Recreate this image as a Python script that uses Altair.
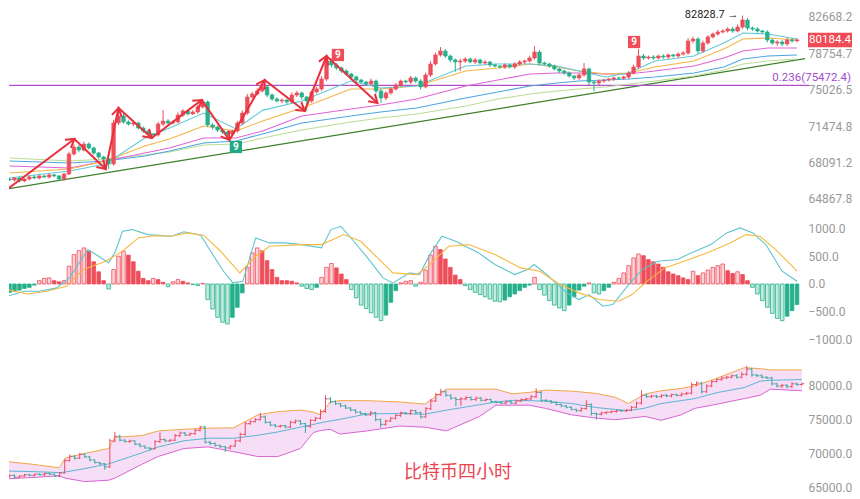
import math
import altair as alt
import pandas as pd

# ---------------- values ----------------
closes = [66530, 66710, 66440, 66620, 66800, 66710, 66890, 66800, 66980, 66890,
          66620, 67060, 68880, 69520, 69240, 69800, 69430, 68970, 68600, 68420,
          67970, 71780, 72450, 71880, 71680, 71780, 71300, 71020, 70740, 70640,
          71680, 71970, 71780, 71880, 72550, 72940, 72650, 72840, 73330, 73820,
          71590, 71400, 71110, 70930, 70740, 71020, 71780, 72740, 74310, 74610,
          74910, 75310, 74510, 74110, 73920, 74010, 73820, 74510, 74710, 74310,
          73920, 74810, 75110, 76110, 77960, 77550, 77240, 76930, 76620, 76320,
          76010, 75810, 75610, 75910, 74910, 74210, 74710, 75110, 75510, 75910,
          75810, 76220, 75910, 75310, 76520, 77650, 78590, 79010, 78480, 78070,
          77860, 77960, 78170, 77860, 78070, 77750, 77860, 77550, 77440, 77340,
          77550, 77340, 77650, 77860, 77960, 78270, 78900, 77750, 77650, 77440,
          77140, 76930, 76730, 76420, 76220, 76520, 77140, 75810, 75710, 75910,
          76010, 76110, 76220, 76200, 76320, 76730, 77340, 78480, 78270, 78380,
          78270, 78480, 78380, 78590, 78480, 78690, 78800, 80070, 80280, 79010,
          79850, 80500, 80820, 81030, 81140, 81360, 81140, 81570, 82340, 81470,
          81360, 81140, 81030, 80170, 79850, 79960, 79750, 80170, 80070, 80184.4]
wick_up = [120, 90, 150, 80, 110, 140, 70, 100, 130, 90,
           80, 110, 200, 250, 180, 220, 150, 120, 90, 110,
           100, 300, 680, 250, 150, 200, 120, 150, 100, 90,
           200, 1060, 180, 150, 250, 200, 150, 180, 220, 190,
           150, 200, 150, 120, 100, 130, 200, 250, 300, 200,
           250, 600, 200, 150, 180, 150, 120, 250, 200, 150,
           120, 180, 200, 300, 520, 250, 200, 150, 180, 120,
           150, 130, 100, 250, 150, 200, 180, 150, 200, 150,
           120, 200, 150, 180, 250, 300, 250, 420, 200, 150,
           150, 250, 180, 150, 200, 150, 180, 120, 150, 100,
           150, 120, 200, 180, 150, 250, 630, 200, 150, 120,
           150, 100, 120, 150, 100, 200, 610, 150, 120, 150,
           100, 120, 150, 100, 120, 200, 250, 740, 200, 150,
           180, 150, 200, 150, 120, 180, 200, 300, 250, 200,
           250, 200, 150, 250, 200, 180, 250, 300, 488.7, 200,
           150, 200, 150, 200, 150, 200, 180, 250, 200, 150]
wick_dn = [100, 150, 120, 90, 140, 100, 120, 80, 150, 110,
           120, 150, 100, 150, 200, 120, 150, 180, 150, 200,
           440, 150, 200, 180, 150, 200, 150, 180, 120, 280,
           150, 200, 180, 150, 120, 200, 150, 120, 180, 150,
           200, 250, 180, 200, 570, 200, 150, 200, 180, 150,
           120, 150, 200, 180, 150, 200, 180, 150, 200, 250,
           980, 200, 150, 180, 200, 250, 180, 200, 150, 180,
           200, 150, 180, 120, 250, 490, 200, 150, 180, 200,
           150, 200, 180, 250, 150, 200, 150, 180, 200, 250,
           1000, 900, 200, 150, 200, 180, 150, 200, 150, 180,
           200, 150, 180, 150, 200, 150, 180, 200, 150, 180,
           150, 200, 180, 150, 200, 180, 150, 300, 810, 200,
           180, 150, 200, 150, 180, 200, 150, 200, 180, 150,
           200, 150, 180, 200, 150, 180, 150, 200, 250, 300,
           200, 180, 150, 200, 150, 180, 200, 150, 200, 250,
           200, 180, 150, 250, 200, 300, 250, 200, 180, 150]
first_open = 66600.0

macd_hist = [-150, -130, -110, -80, -60, -20, 60, 100, 110, 60,
             40, 60, 320, 530, 600, 650, 590, 400, 220, 60,
             -90, 260, 500, 590, 520, 400, 230, 100, 60, 100,
             80, 30, -50, 40, 80, 50, 20, -10, -30, 10,
             -280, -450, -600, -690, -720, -600, -420, -160, 300, 560,
             650, 600, 420, 260, 120, 60, 60, 50, 20, -40,
             -80, -100, -60, 120, 300, 370, 290, 180, 80, -100,
             -250, -380, -440, -520, -600, -660, -560, -330, -120, 20,
             50, 60, -40, 30, 250, 520, 680, 620, 450, 300,
             160, 80, -30, -100, -150, -190, -230, -270, -310, -320,
             -290, -230, -180, -120, -60, -20, 120, -100, -200, -300,
             -380, -430, -480, -380, -230, -110, -40, 20, -160, -180,
             -120, -60, 30, 100, 200, 330, 470, 540, 510, 440,
             400, 360, 300, 220, 180, 150, 110, 80, 230, 150,
             200, 250, 300, 330, 360, 240, 190, 220, 170, 60,
             -60, -180, -300, -420, -530, -620, -660, -580, -480, -370]
dif_i = [-0.4, 3.0, 6.1, 9.5, 12.1, 15.8, 18.0, 20.0, 21.4, 22.8, 24.8, 27.9, 32.7, 35.2,
         38.6, 40.6, 43.2, 45.1, 47.1, 49.7, 52.5, 55.6, 59.0, 63.0, 64.9, 66.9, 69.5, 72.3,
         75.4, 77.4, 80.8, 82.8, 84.8, 87.3, 90.1, 94.7, 98.0, 102.0, 104.6, 105.9, 108.5,
         112.5, 115.0, 117.0, 119.8, 121.8, 125.0, 127.7, 130.9, 134.9, 137.6, 141.6, 144.8,
         147.5, 150.1, 152.7, 156.0, 159.0]
dif_v = [-220, -130, -130, -70, 110, 620, 500, 380, 590, 950, 980, 890, 860, 940,
         880, 590, 230, 20, 50, 830, 740, 740, 710, 650, 980, 1040, 770, 470,
         110, 20, 200, 170, 520, 860, 770, 560, 350, 170, 260, 350, 170,
         -160, -280, -190, -400, -370, -10, 260, 410, 440, 560, 710, 920,
         1010, 920, 710, 230, 50]
dea_i = [-0.4, 3.6, 7.5, 11.5, 14.9, 19.4, 22.8, 26.0, 29.3, 32.7, 35.8, 39.2, 42.6, 46.5,
         49.7, 52.5, 59.0, 63.0, 67.5, 70.9, 74.3, 77.4, 82.2, 84.8, 88.7, 92.7, 98.0, 103.2,
         107.1, 111.1, 115.0, 119.0, 123.0, 125.7, 128.3, 132.3, 136.2, 140.8, 145.5, 148.7,
         151.5, 154.7, 159.0]
dea_v = [-100, -180, -130, -40, 260, 410, 590, 830, 870, 860, 920, 880, 590, 200,
         500, 680, 710, 710, 890, 770, 470, 200, 170, 350, 680, 710, 530, 290,
         230, -10, -160, -280, -310, -190, 20, 290, 410, 560, 740, 890,
         860, 620, 230]

ma_i = [0, 12.1, 19.4, 27.3, 32.3, 39.2, 45.7, 51.1, 59.0, 68.9, 74.9, 82.2, 92.1, 98.6,
        105.1, 110.5, 115.0, 120.4, 125.0, 130.3, 138.2, 144.2, 148.1, 153.1, 159.0]
ma_cyan = [66710, 67330, 67970, 70360, 71300, 72740, 71210, 73000, 73920, 75910, 75210, 75410,
           77440, 77650, 77650, 77440, 76930, 76320, 76730, 77960, 78480, 79850, 80920, 80820, 80280]
ma_orange = [67150, 67510, 68240, 69610, 70270, 71490, 71020, 71970, 73230, 75110, 75110, 75410,
             76930, 77240, 77650, 77340, 76930, 76620, 76730, 77340, 77960, 79220, 80280, 80390, 80170]
ma_magenta = [67780, 67600, 68240, 68970, 69430, 70360, 70360, 71020, 72450, 73130, 73520, 74110,
              75410, 76010, 76620, 76730, 76730, 76620, 76620, 76930, 77440, 78270, 79010, 79320, 79320]
ma_blue = [68240, 68060, 68240, 68690, 69150, 69890, 70080, 70740, 71780, 72450, 72840, 73230,
           74210, 74810, 75410, 75710, 75910, 76010, 76110, 76320, 76730, 77340, 78170, 78480, 78590]
ma_lgreen = [68510, 68240, 68420, 68780, 69060, 69710, 69800, 70360, 71110, 71880, 72260, 72650,
             73420, 74110, 74610, 74910, 75110, 75310, 75610, 75910, 76420, 77030, 77650, 77960, 78170]

bb_i = [0, 6.1, 10.9, 12.1, 16.0, 20.8, 22.0, 27.3, 30.7, 35.8, 40.6, 45.7, 50.5, 54.5, 59.0,
        61.6, 63.0, 64.9, 66.9, 72.3, 78.8, 83.8, 88.1, 94.7, 98.0, 101.2, 104.6, 107.9, 113.1,
        117.8, 121.8, 124.4, 127.7, 130.9, 134.9, 137.6, 142.2, 147.5, 150.7, 152.7, 159.0]
bb_up = [68780, 68300, 67830, 69250, 69950, 70660, 72320, 72550, 73250, 73490, 73650, 73700,
         75610, 76080, 76320, 76000, 75610, 77500, 77700, 77700, 77500, 77200, 79390, 79390,
         79390, 78700, 78910, 79250, 79100, 78770, 78200, 77270, 78680, 79150, 79500, 79860,
         81040, 82550, 82400, 82220, 82220]
bb_lo = [66180, 66420, 66660, 66300, 65800, 66000, 66300, 68300, 69500, 70660, 70900, 70190,
         69480, 69480, 70660, 73020, 73300, 73490, 72780, 73250, 73960, 73800, 73250, 75370,
         77030, 77030, 77030, 76560, 75610, 75140, 74900, 75100, 75370, 74810, 75610, 76560,
         77200, 78000, 78500, 79390, 79150]
bb_mid = [67360, 67250, 67120, 67200, 67700, 68400, 68700, 70000, 70900, 71800, 72170, 72170,
          72600, 73100, 73800, 74200, 74440, 74700, 74950, 75750, 75800, 75700, 76300, 77100,
          77500, 77740, 77700, 77600, 77270, 76700, 76400, 76230, 76600, 77270, 77700, 78000,
          78900, 79620, 80570, 80700, 80800]

zig_i = [-0.4, 13.1, 19.4, 22.0, 28.7, 38.8, 44.4, 51.5, 59.6, 64.0, 74.3]
zig_v = [65740, 70270, 67510, 73230, 70360, 74010, 70170, 76010, 72940, 78480, 73720]
trend_i = [-0.4, 161.4]
trend_v = [65740, 78270]

nine_i = [45.7, 66.3, 126.1]
nine_v = [69520, 78590, 79960]
nine_kind = ["buy", "sell", "sell"]

fib_level = 75472.4
fib_text = "0.236(75472.4)"
last_price = 80184.4
peak_index = 148
peak_price = 82828.7
title_text = "比特币四小时"

top_ticks = [64867.8, 68091.2, 71474.8, 75026.5, 78754.7, 82668.2]
macd_ticks = [-1000, -500, 0, 500, 1000]
bot_ticks = [65000, 70000, 75000, 80000]

# ---------------- layout ----------------
W = 796
X_DOM = [0.9, 159.6]
H_TOP, TOP_DOM = 204, [63668, 83554]
H_MACD, MACD_DOM = 138, [-1207, 1279]
H_BOT, BOT_DOM = 137, [64853, 85000]

RED, GREEN = "#ee4d5a", "#25b08b"
ARROW = "#e8303c"
LABEL = "#999999"

xscale = alt.Scale(domain=X_DOM, nice=False, zero=False)


def X(f="i"):
    return alt.X(f"{f}:Q", scale=xscale, axis=None)


def make_axis(vals):
    return alt.Axis(orient="right", values=vals, format=".1f", labelColor=LABEL,
                    labelFontSize=12, labelFont="Roboto", domain=False, ticks=False,
                    grid=False, labelPadding=3, title=None, labelOverlap=False,
                    labelBound=False, labelFlush=False)


top_scale = alt.Scale(type="log", domain=TOP_DOM, nice=False)
macd_scale = alt.Scale(domain=MACD_DOM, nice=False, zero=False)
bot_scale = alt.Scale(domain=BOT_DOM, nice=False, zero=False)
top_axis = make_axis(top_ticks)
macd_axis = make_axis(macd_ticks)
bot_axis = make_axis(bot_ticks)


def Y(f, sc, ax):
    return alt.Y(f"{f}:Q", scale=sc, axis=ax)


def YD(v, sc, ax):
    return alt.Y(datum=v, type="quantitative", scale=sc, axis=ax)


opens = [first_open] + closes[:-1]
cdf = pd.DataFrame({
    "i": list(range(len(closes))),
    "open": opens,
    "close": closes,
    "high": [max(o, c) + w for o, c, w in zip(opens, closes, wick_up)],
    "low": [min(o, c) - w for o, c, w in zip(opens, closes, wick_dn)],
})
cdf["up"] = cdf["close"] >= cdf["open"]
cdf["il"] = cdf["i"] - 0.45
cdf["ir"] = cdf["i"] + 0.45
up_df = cdf[cdf["up"]]
dn_df = cdf[~cdf["up"]]

one = pd.DataFrame({"k": [0]})

# ---------------- top panel ----------------
TS, TA = top_scale, top_axis
layers = []
trend_df = pd.DataFrame({"i": trend_i, "v": trend_v})
layers.append(alt.Chart(trend_df).mark_line(color="#3e7f2c", strokeWidth=1.2, clip=True)
              .encode(x=X(), y=Y("v", TS, TA)))
layers.append(alt.Chart(one).mark_rule(color="#b04fc9", strokeWidth=1.2)
              .encode(x=alt.value(0), x2=alt.value(W + 4), y=YD(fib_level, TS, TA)))
for arr, col in [(ma_lgreen, "#bddc94"), (ma_blue, "#4ea6e0"), (ma_magenta, "#e064d6"),
                 (ma_orange, "#f5b445"), (ma_cyan, "#62c9d6")]:
    d = pd.DataFrame({"i": ma_i, "v": arr})
    layers.append(alt.Chart(d).mark_line(color=col, strokeWidth=1.1, clip=True)
                  .encode(x=X(), y=Y("v", TS, TA)))
for d, col in [(up_df, RED), (dn_df, GREEN)]:
    layers.append(alt.Chart(d).mark_rule(color=col, strokeWidth=1, clip=True)
                  .encode(x=X(), y=Y("low", TS, TA), y2="high:Q"))
    layers.append(alt.Chart(d).mark_bar(width=3.6, color=col, stroke=col, strokeWidth=0.6, clip=True)
                  .encode(x=X(), y=Y("open", TS, TA), y2="close:Q"))

# zig-zag arrows
zig_df = pd.DataFrame({"i": zig_i, "v": zig_v})


def sx(i):
    return (i - X_DOM[0]) / (X_DOM[1] - X_DOM[0]) * W


def sy(v):
    lo, hi = math.log(TOP_DOM[0]), math.log(TOP_DOM[1])
    return (hi - math.log(v)) / (hi - lo) * H_TOP


angles = [0.0]
for k in range(1, len(zig_i)):
    dx = sx(zig_i[k]) - sx(zig_i[k - 1])
    dy = sy(zig_v[k]) - sy(zig_v[k - 1])
    angles.append(math.degrees(math.atan2(dy, dx)) % 360)
zig_df["ang"] = angles
layers.append(alt.Chart(zig_df).mark_line(color=ARROW, strokeWidth=2, clip=True)
              .encode(x=X(), y=Y("v", TS, TA)))
layers.append(alt.Chart(zig_df.iloc[1:]).mark_point(
    shape="M-1,-0.62L0,0L-1,0.62", size=260, filled=False, strokeWidth=2,
    color=ARROW, opacity=1)
    .encode(x=X(), y=Y("v", TS, TA), angle=alt.Angle("ang:Q", scale=None)))

nine_df = pd.DataFrame({"i": nine_i, "v": nine_v, "kind": nine_kind})
for kind, col in [("sell", "#ef4d58"), ("buy", "#22a883")]:
    d = nine_df[nine_df["kind"] == kind]
    layers.append(alt.Chart(d).mark_point(shape="square", size=150, filled=True, color=col, opacity=1)
                  .encode(x=X(), y=Y("v", TS, TA)))
    layers.append(alt.Chart(d).mark_text(text="9", color="white", fontSize=10, fontWeight="bold",
                                         font="Roboto", baseline="middle")
                  .encode(x=X(), y=Y("v", TS, TA)))

layers.append(alt.Chart(one).mark_text(align="right", baseline="middle", fontSize=11, font="Roboto",
                                       color="#222222", dx=-4, dy=-1)
              .encode(x=alt.X(datum=peak_index, type="quantitative", scale=xscale, axis=None),
                      y=YD(peak_price, TS, TA), text=alt.value(f"{peak_price} →")))
layers.append(alt.Chart(one).mark_text(align="right", baseline="bottom", fontSize=11.5, font="Roboto",
                                       color="#a24ccc", dy=-2)
              .encode(x=alt.value(W + 46), y=YD(fib_level, TS, TA), text=alt.value(fib_text)))
layers.append(alt.Chart(one).mark_point(shape="M-1,-0.33L1,-0.33L1,0.33L-1,0.33Z", size=1936,
                                        filled=True, color="#ef4a55", opacity=1)
              .encode(x=alt.value(W + 25), y=YD(last_price, TS, TA)))
layers.append(alt.Chart(one).mark_text(color="white", fontSize=11.5, font="Roboto", baseline="middle")
              .encode(x=alt.value(W + 25), y=YD(last_price, TS, TA), text=alt.value(f"{last_price}")))

top = alt.layer(*layers).properties(width=W, height=H_TOP)

# ---------------- MACD panel ----------------
MS, MA = macd_scale, macd_axis
styles = []
for k, h in enumerate(macd_hist):
    p = macd_hist[k - 1] if k > 0 else h
    if h >= 0:
        styles.append("pos_hollow" if h > p else "pos_solid")
    else:
        styles.append("neg_hollow" if h < p else "neg_solid")
hdf = pd.DataFrame({"i": list(range(len(macd_hist))), "h": macd_hist, "style": styles})
mlayers = []
for st, fill, stroke in [("pos_solid", RED, RED), ("pos_hollow", "#fbd2d6", RED),
                         ("neg_solid", GREEN, GREEN), ("neg_hollow", "#c3ecdf", GREEN)]:
    d = hdf[hdf["style"] == st]
    mlayers.append(alt.Chart(d).mark_bar(width=3.6, fill=fill, stroke=stroke, strokeWidth=0.8, clip=True)
                   .encode(x=X(), y=Y("h", MS, MA), y2=alt.Y2(datum=0)))
mlayers.append(alt.Chart(pd.DataFrame({"i": dif_i, "v": dif_v}))
               .mark_line(color="#5ec4cf", strokeWidth=1.1, clip=True)
               .encode(x=X(), y=Y("v", MS, MA)))
mlayers.append(alt.Chart(pd.DataFrame({"i": dea_i, "v": dea_v}))
               .mark_line(color="#f5b940", strokeWidth=1.1, clip=True)
               .encode(x=X(), y=Y("v", MS, MA)))
macd = alt.layer(*mlayers).properties(width=W, height=H_MACD)

# ---------------- bottom panel ----------------
BS, BA = bot_scale, bot_axis
bdf = pd.DataFrame({"i": bb_i, "up": bb_up, "lo": bb_lo, "mid": bb_mid})
blayers = [
    alt.Chart(bdf).mark_area(color="#f4d8f6", opacity=0.85, clip=True)
    .encode(x=X(), y=Y("up", BS, BA), y2="lo:Q"),
    alt.Chart(bdf).mark_line(color="#f4a645", strokeWidth=1, clip=True).encode(x=X(), y=Y("up", BS, BA)),
    alt.Chart(bdf).mark_line(color="#d865d2", strokeWidth=1, clip=True).encode(x=X(), y=Y("lo", BS, BA)),
    alt.Chart(bdf).mark_line(color="#5cb5d3", strokeWidth=1, clip=True).encode(x=X(), y=Y("mid", BS, BA)),
]
for d, col in [(up_df, "#ec4b5f"), (dn_df, "#3aa6a0")]:
    blayers.append(alt.Chart(d).mark_rule(color=col, strokeWidth=1, clip=True)
                   .encode(x=X(), y=Y("low", BS, BA), y2="high:Q"))
    blayers.append(alt.Chart(d).mark_rule(color=col, strokeWidth=1, clip=True)
                   .encode(x=X("il"), x2="i:Q", y=Y("open", BS, BA)))
    blayers.append(alt.Chart(d).mark_rule(color=col, strokeWidth=1, clip=True)
                   .encode(x=X("i"), x2="ir:Q", y=Y("close", BS, BA)))
blayers.append(alt.Chart(one).mark_text(font="Noto Sans CJK SC", fontSize=18, color="#ec4450",
                                        baseline="middle", align="center")
               .encode(x=alt.value(449), y=alt.value(122), text=alt.value(title_text)))
bot = alt.layer(*blayers).properties(width=W, height=H_BOT)

chart = alt.vconcat(top, macd, bot, spacing=0, bounds="flush", padding=0, background="white") \
    .configure_view(stroke=None)

chart.save("out.html", embed_options={"renderer": "svg", "actions": False})
